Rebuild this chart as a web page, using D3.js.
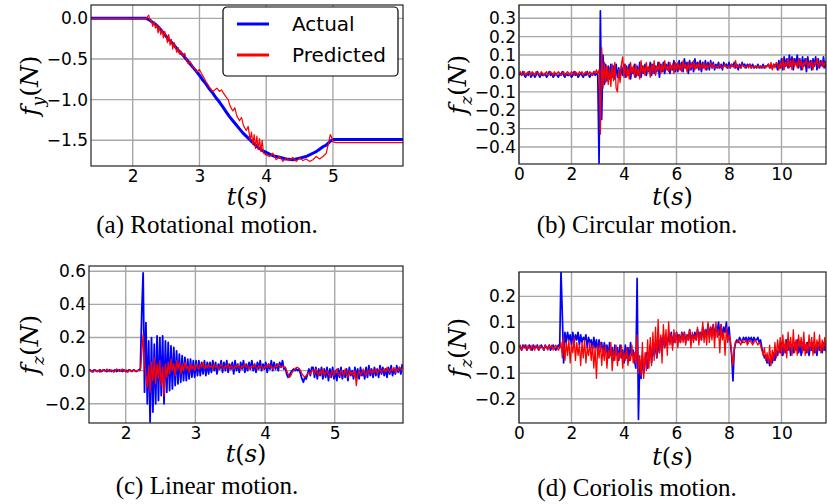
<!DOCTYPE html>
<html>
<head>
<meta charset="utf-8">
<script src="https://cdn.jsdelivr.net/npm/d3@7"></script>
<style>
  body { margin: 0; background: #fff; }
  .tick text { font-family: "DejaVu Sans", sans-serif; font-size: 17px; fill: #000; }
</style>
</head>
<body>
<script>
// ---- data ----

// (a) rotational motion, f_y in N, [t, value]
var aActual = [[1.375,0],[2.2,0],[2.25,-0.02],[2.3,-0.05],[2.35,-0.08],[2.4,-0.12],[2.45,-0.17],[2.5,-0.22],
  [2.55,-0.27],[2.6,-0.31],[2.65,-0.36],[2.7,-0.41],[2.75,-0.45],[2.8,-0.5],[2.85,-0.55],[2.9,-0.6],
  [2.95,-0.65],[3.0,-0.7],[3.05,-0.76],[3.1,-0.81],[3.15,-0.87],[3.2,-0.92],[3.25,-0.98],[3.3,-1.03],
  [3.35,-1.09],[3.4,-1.15],[3.45,-1.21],[3.5,-1.26],[3.55,-1.31],[3.6,-1.36],[3.65,-1.41],[3.7,-1.45],
  [3.75,-1.49],[3.8,-1.53],[3.85,-1.57],[3.9,-1.6],[3.95,-1.63],[4.0,-1.65],[4.05,-1.67],[4.1,-1.69],
  [4.2,-1.71],[4.3,-1.73],[4.4,-1.74],[4.5,-1.72],[4.6,-1.7],[4.65,-1.68],[4.7,-1.66],[4.75,-1.64],
  [4.8,-1.61],[4.85,-1.58],[4.9,-1.56],[4.95,-1.52],[5.0,-1.49],[6.05,-1.49]];
var aPredicted = [[1.375,0],[2.18,0],[2.2,-0.01],[2.22,0.02],[2.24,0.04],[2.26,-0.03],[2.28,-0.02],[2.3,-0.1],
  [2.32,-0.04],[2.34,-0.12],[2.36,-0.08],[2.38,-0.18],[2.4,-0.1],[2.42,-0.2],[2.44,-0.14],[2.46,-0.24],
  [2.48,-0.16],[2.5,-0.22],[2.52,-0.3],[2.54,-0.2],[2.56,-0.33],[2.58,-0.26],[2.6,-0.38],[2.62,-0.3],
  [2.64,-0.35],[2.66,-0.42],[2.68,-0.36],[2.7,-0.44],[2.72,-0.4],[2.75,-0.47],[2.78,-0.43],[2.8,-0.5],
  [2.83,-0.56],[2.86,-0.53],[2.9,-0.6],[2.93,-0.62],[2.96,-0.66],[3.0,-0.63],[3.03,-0.68],[3.06,-0.72],
  [3.1,-0.78],[3.13,-0.82],[3.16,-0.86],[3.2,-0.9],[3.23,-0.88],[3.26,-0.86],[3.3,-0.9],[3.33,-0.88],
  [3.36,-0.92],[3.4,-0.97],[3.43,-1.0],[3.46,-1.08],[3.5,-1.14],[3.53,-1.1],[3.56,-1.2],[3.6,-1.26],
  [3.63,-1.22],[3.66,-1.32],[3.7,-1.38],[3.73,-1.33],[3.76,-1.5],[3.78,-1.4],[3.8,-1.55],[3.82,-1.43],
  [3.84,-1.6],[3.86,-1.45],[3.88,-1.62],[3.9,-1.48],[3.92,-1.64],[3.94,-1.5],[3.96,-1.66],[4.0,-1.68],
  [4.05,-1.7],[4.1,-1.66],[4.15,-1.74],[4.2,-1.7],[4.25,-1.76],[4.3,-1.72],[4.35,-1.75],[4.4,-1.71],
  [4.45,-1.76],[4.5,-1.72],[4.55,-1.75],[4.6,-1.73],[4.65,-1.76],[4.7,-1.74],[4.75,-1.7],[4.8,-1.73],
  [4.85,-1.7],[4.9,-1.66],[4.93,-1.55],[4.96,-1.43],[4.98,-1.46],[5.0,-1.52],[5.05,-1.53],[6.05,-1.53]];

// (b) circular motion, f_z in N, sampled every 0.05 s from t = 0
var bStart = 0, bStep = 0.05;
var bActual = [
  -0.01,0,-0.01,0.01,-0.01,-0.02,0,-0.01,0.01,-0.02,
  -0.01,0,-0.02,-0.01,0.01,-0.01,-0.02,0,-0.01,-0.01,
  0,-0.02,-0.01,0.01,-0.01,0,-0.02,-0.01,0,-0.01,
  -0.02,0,-0.01,0.01,-0.01,-0.02,0,-0.01,-0.01,0,
  -0.02,-0.01,0.01,-0.01,0,-0.02,-0.01,0,-0.01,-0.02,
  0,-0.01,0.01,-0.01,-0.02,0,-0.01,0.01,-0.01,0,
  -0.01,
  -0.49,0.34,-0.25,0.1,-0.06,0.05,-0.04,0.04,-0.03,0.05,
  -0.02,0.04,-0.03,0.05,-0.02,0.03,-0.03,0.04,-0.01,0.05,
  -0.02,0.04,-0.01,0.05,-0.03,0.03,0,0.05,-0.02,0.04,
  -0.01,0.06,-0.02,0.04,0,0.05,-0.01,0.03,0.01,0.06,
  -0.01,0.05,0,0.04,0.01,0.06,-0.02,0.05,0.01,0.06,
  0,0.05,0.02,0.06,0,0.04,0.02,0.07,0.01,0.05,
  0.01,0.07,0.02,0.06,0.01,0.08,0.03,0.06,0,0.07,
  0.02,0.06,0.01,0.08,0.03,0.06,0.02,0.07,0.01,0.06,
  0.03,0.07,0.02,0.06,0.02,0.07,0.03,0.06,0.02,0.05,
  0.03,0.06,0.03,0.05,0.02,0.06,0.04,0.05,0.03,0.06,
  0.03,0.05,0.04,0.06,0.03,0.05,0.02,0.05,0.03,0.06,
  0.04,0.05,0.03,0.05,0.04,0.05,0.03,0.05,0.03,0.04,
  0.03,0.05,0.03,0.04,0.03,0.05,0.03,0.04,0.04,0.05,
  0.03,0.04,0.03,0.05,0.04,0.05,
  0.02,0.07,0.03,0.08,0.02,0.09,0.04,0.08,0.03,0.1,
  0.04,0.09,0.02,0.08,0.05,0.1,0.03,0.08,0.02,0.09,
  0.04,0.08,0.01,0.09,0.03,0.07,0.02,0.08,0.04,0.09,
  0.02,0.08,0.03,0.07,0.04,0.09,0.03,0.07];
var bPredicted = [
  0,0.01,-0.01,0,0.01,-0.01,0,0.01,0,-0.01,
  0.01,0,-0.01,0.01,0,0,-0.01,0.01,0,-0.01,
  0,0.01,-0.01,0,0.01,0,-0.01,0.01,-0.01,0,
  0.01,0,-0.01,0,0.01,-0.01,0,0.01,0,-0.01,
  0.01,0,-0.01,0.01,0,-0.01,0.01,0,0.01,-0.01,
  0,0.01,0,-0.01,0.01,0,-0.01,0.01,0,0.02,
  0,
  0.02,-0.33,0.14,-0.08,0.06,-0.05,0.04,-0.06,0.03,-0.07,
  0.05,-0.04,0.06,-0.08,-0.1,0.02,-0.05,0.05,0.09,-0.02,
  0.05,-0.02,0.03,-0.03,0.06,0,0.04,-0.02,0.05,-0.01,
  0.03,-0.03,0.07,0,0.04,-0.01,0.06,0.01,0.04,-0.02,
  0.05,0.01,0.07,-0.01,0.04,0.02,0.06,0,0.05,0.01,
  0.07,0.02,0.04,0.01,0.06,0.02,0.05,0,0.06,0.02,
  0.06,0.02,0.05,0.01,0.07,0.03,0.05,0.01,0.06,0.02,
  0.05,0.03,0.07,0.02,0.05,0.03,0.06,0.02,0.05,0.03,
  0.06,0.02,0.05,0.03,0.04,0.06,0.03,0.05,0.03,0.04,
  0.04,0.03,0.05,0.04,0.03,0.04,0.05,0.03,0.04,0.04,
  0.03,0.05,0.04,0.03,0.07,0.03,0.04,0.04,0.03,0.05,
  0.04,0.03,0.04,0.04,0.03,0.05,0.03,0.04,0.03,0.04,
  0.03,0.04,0.04,0.03,0.04,0.03,0.04,0.03,0.04,0.05,
  0.03,0.06,0.02,0.05,0.03,0.06,
  0.05,0.02,0.06,0.03,0.08,0.02,0.06,0.04,0.08,0.03,
  0.07,0.02,0.08,0.04,0.06,0.03,0.08,0.04,0.07,0.02,
  0.06,0.05,0.08,0.03,0.06,0.04,0.07,0.02,0.06,0.05,
  0.08,0.03,0.06,0.05,0.07,0.03,0.06,0.05];

// (c) linear motion, f_z in N, sampled every 0.02 s from t = 1.47
var cStart = 1.47, cStep = 0.02;
var cActual = [
  0,0.005,-0.005,0,0.005,0,-0.005,0,0.005,-0.005,
  0,0.005,0,-0.005,0,0.005,-0.005,0,0,0.005,
  -0.005,0,0.005,0,-0.005,0.005,0,-0.005,0,0.005,
  0,-0.005,0.005,0,-0.005,0,0.005,
  0.01,0.35,0.59,-0.13,
  0.29,-0.2,0.18,-0.31,0.2,-0.25,0.16,-0.2,0.21,-0.18,
  0.2,-0.15,0.21,-0.2,0.18,-0.13,0.17,-0.12,0.15,-0.11,
  0.14,-0.09,0.12,-0.08,0.1,-0.07,0.09,-0.06,0.08,-0.06,
  0.07,-0.05,0.07,-0.04,0.06,-0.04,0.06,-0.03,0.06,-0.03,
  0.05,-0.02,0.06,-0.03,0.05,-0.02,
  0.05,-0.01,0.06,0,0.05,-0.02,0.04,0.01,0.06,-0.01,
  0.05,0,0.06,-0.01,0.04,0.01,0.05,-0.02,0.06,0,
  0.04,-0.01,0.05,0.01,0.06,-0.01,0.04,0,0.05,0.01,
  0.06,0,0.04,-0.01,0.05,0.01,0.06,0,0.04,0.01,
  0.05,-0.01,0.04,0.01,0.06,0,0.05,0.01,0.04,0,
  0.05,0.02,0.06,0.01,
  0.02,-0.02,-0.04,-0.03,-0.01,0,0.01,0,0.01,0,
  0.01,-0.02,-0.05,-0.07,-0.04,-0.05,-0.02,0.01,-0.03,0.02,
  0.02,-0.04,0.02,-0.05,0.01,-0.03,0.02,-0.05,0.01,-0.04,
  0.02,-0.06,0.01,-0.04,0.02,-0.05,0,-0.06,0.01,-0.04,
  0.02,-0.05,0,-0.04,0.01,-0.06,0.02,-0.03,0,-0.05,
  0.02,-0.04,0.01,-0.05,0.02,-0.03,0,-0.05,0.02,-0.04,
  0.03,-0.03,0.01,-0.04,0.02,-0.03,0.01,-0.04,0.03,-0.02,
  0.02,-0.03,0.01,-0.04,0.02,-0.02,0.03,-0.03,0.01,-0.02,
  0.03,-0.01,0.02,-0.02,0.04];
var cPredicted = [
  0,0.005,-0.005,-0.01,0,0.005,-0.005,0,-0.01,0,
  0.005,0,-0.005,0.01,0,-0.005,0.005,0,-0.01,0,
  0.01,0.005,-0.005,0,0.01,-0.005,0,0.005,-0.01,0,
  0.005,-0.005,0,0.005,-0.005,0,0,
  0,0.1,0.22,0.05,
  -0.02,-0.1,0.03,-0.13,0.05,-0.06,0.08,-0.08,0.04,-0.05,
  0.06,-0.09,0.02,-0.15,0.04,-0.04,0.05,-0.02,0.07,0,
  0.04,-0.03,0.06,0.01,0.05,-0.02,0.04,0,0.05,0.01,
  0.03,-0.01,0.04,0.01,0.03,0,0.04,0.02,0.01,0.04,
  0.02,0.05,0.01,0.03,0.02,0.04,
  0.02,0.03,0.01,0.04,0.02,0.03,0.01,0.02,0.04,0.02,
  0.01,0.03,0.02,0.04,0.01,0.03,0.02,0.01,0.03,0.02,
  0.04,0.02,0.01,0.03,0.02,0.04,0.02,0.03,0.01,0.02,
  0.03,0.02,0.04,0.02,0.01,0.03,0.02,0.03,0.01,0.02,
  0.03,0.02,0.04,0.02,0.03,0.01,0.02,0.03,0.02,0.04,
  0.03,0.02,0.03,0.02,
  0.02,0,-0.02,-0.04,-0.03,-0.01,0,0.01,0.02,0.02,
  0.01,0,-0.02,-0.03,-0.04,-0.03,-0.02,-0.01,-0.02,0,
  0,-0.02,0.01,-0.01,-0.03,0,-0.02,0.01,-0.03,-0.01,
  0,-0.02,-0.04,-0.01,0,-0.03,-0.01,0.01,-0.02,-0.03,
  0,-0.01,-0.03,0.01,-0.02,-0.04,0,-0.02,-0.01,-0.03,
  0,-0.09,-0.02,0,-0.03,-0.01,0.01,-0.02,-0.03,0,
  -0.01,0.01,-0.02,0,-0.01,0.01,-0.02,0,0.01,-0.01,
  0,0.01,-0.01,0.02,0,-0.01,0.01,0,0.02,-0.01,
  0.01,0,0.02,0.01,0];

// (d) Coriolis motion, f_z in N, sampled every 0.05 s from t = 0
var dStart = 0, dStep = 0.05;
var dActual = [
  0.01,0,-0.01,0.01,0,0.01,-0.01,0,0.01,0,
  -0.01,0.01,0,0,0.01,-0.01,0,0.01,0,-0.01,
  0.01,0,0,0.01,-0.01,0,0.01,0,-0.01,0,
  0.01,0,
  0.3,0.13,-0.06,0.06,
  0.02,0.06,0.03,0.05,0.01,0.06,0.02,0.05,0.03,0.06,
  0.01,0.05,0.02,0.04,0.03,0.05,0,0.04,0.02,0.03,
  -0.01,0.04,0,0.03,-0.02,0.03,0,0.02,-0.03,0.02,
  -0.02,0.01,-0.04,0.02,-0.03,0,-0.05,0.01,-0.03,0,
  -0.05,0.01,-0.04,-0.01,-0.06,0.01,-0.04,0,-0.05,0.02,
  -0.03,-0.01,-0.05,
  -0.08,0.27,-0.28,-0.05,-0.12,-0.03,-0.1,-0.06,-0.02,-0.08,
  -0.04,0.01,-0.06,0,-0.03,0.02,-0.04,0.03,-0.02,0.04,
  -0.01,0.05,0,0.04,0.01,0.05,0.02,0.06,0.01,0.05,
  0.02,0.06,0.03,0.05,0.02,0.06,
  0.03,0.06,0.02,0.05,0.03,0.07,0.02,0.05,0.04,0.06,
  0.03,0.07,0.04,0.06,0.03,0.08,0.04,0.07,0.05,0.09,
  0.04,0.08,
  0.05,0.09,0.04,0.08,0.06,0.1,0.05,0.09,0.04,0.08,
  0.06,0.1,0.03,0.08,
  0.02,-0.03,-0.13,-0.01,0.02,
  0.03,0.02,0.04,0.03,0.02,0.04,0.03,0.04,0.02,0.04,
  0.03,0.04,0.02,0.04,0.03,0.03,0.04,0.02,0.03,
  0,-0.02,-0.04,-0.03,-0.06,-0.04,-0.07,-0.03,-0.06,-0.02,
  -0.05,-0.01,-0.03,0,
  -0.02,0.02,-0.03,0.01,-0.02,0.03,-0.01,0.02,-0.03,0.01,
  -0.02,0.02,-0.01,0.03,-0.02,0.01,-0.03,0.02,-0.01,0.01,
  -0.02,0.02,-0.03,0.01,-0.01,0.02,-0.02,0.01,-0.03,0.02,
  -0.01,0.01,-0.02,0.02,-0.01,0.01];
var dPredicted = [
  0,0.01,-0.01,0,0.01,0,-0.01,0.01,0,-0.01,
  0.01,0,-0.01,0.01,0,-0.01,0.01,0,0,-0.01,
  0.01,0,-0.01,0.01,0,0.01,-0.01,0,0.01,0,
  -0.01,0,
  0.02,-0.04,0.04,-0.05,0.02,-0.03,0.03,-0.06,0.01,-0.02,
  0.04,-0.05,0.02,-0.03,0.01,-0.07,0.02,-0.04,0.03,-0.06,
  0,-0.03,0.02,-0.05,0.01,-0.08,0,-0.12,0.01,-0.04,
  0.02,-0.07,0,-0.05,0.01,-0.08,-0.01,-0.04,0.02,-0.09,
  -0.01,-0.05,0.01,-0.07,-0.02,-0.04,0.01,-0.08,-0.02,-0.05,
  0,-0.07,-0.03,-0.05,0.01,-0.06,-0.02,
  -0.06,0.05,-0.1,-0.03,-0.11,0.02,-0.12,-0.02,-0.09,0.03,
  -0.08,0.04,-0.07,0.06,-0.05,0.08,-0.04,0.11,-0.02,0.05,
  -0.06,0.09,0,0.07,-0.03,0.1,0.01,0.05,-0.01,0.07,
  0.02,0.06,0,0.05,0.02,0.06,
  0.02,0.06,0.01,0.05,0.03,0.07,0,0.06,0.02,0.05,
  0.03,0.08,0.01,0.06,0.03,0.1,0.02,0.07,0.01,0.1,
  0.02,0.08,
  0.03,0.09,0,0.1,0.04,0.07,-0.02,0.09,0.03,0.06,
  -0.03,0.08,0.02,0.05,
  0.03,-0.02,-0.07,0,0.02,
  0.02,0.03,0.02,0.01,0.03,0.02,0.02,0.03,0.01,0.02,
  0.03,0.02,0.01,0.02,0.03,0.02,0.01,0.02,0.01,
  -0.01,-0.03,0,-0.05,-0.02,-0.06,0.01,-0.07,-0.01,-0.05,
  0.02,-0.04,0.03,-0.02,
  0.04,-0.03,0.05,-0.02,0.03,-0.04,0.06,-0.01,0.04,-0.03,
  0.07,-0.02,0.03,-0.03,0.05,0,0.04,-0.02,0.06,-0.03,
  0.02,-0.02,0.05,-0.01,0.04,-0.03,0.06,-0.02,0.03,-0.01,
  0.05,-0.02,0.03,-0.01,0.04,-0.02];

// tick values
var aXTicks = [2, 3, 4, 5], aYTicks = [0, -0.5, -1.0, -1.5];
var bXTicks = [0, 2, 4, 6, 8, 10], bYTicks = [0.3, 0.2, 0.1, 0.0, -0.1, -0.2, -0.3, -0.4];
var cXTicks = [2, 3, 4, 5], cYTicks = [0.6, 0.4, 0.2, 0.0, -0.2];
var dXTicks = [0, 2, 4, 6, 8, 10], dYTicks = [0.2, 0.1, 0.0, -0.1, -0.2];

var legendLabels = ["Actual", "Predicted"];
var colors = {actual: "#0000ff", predicted: "#ff0000"};

function sampled(values, start, step) {
  return values.map(function(v, i) { return [start + i * step, v]; });
}

var svg = d3.select("body").append("svg")
  .attr("width", 827)
  .attr("height", 504);

svg.append("rect").attr("width", 827).attr("height", 504).attr("fill", "#fff");

var fmt1 = d3.format(".1f");

function drawPanel(p) {
  var x = d3.scaleLinear().domain(p.xDomain).range([p.left, p.right]);
  var y = d3.scaleLinear().domain(p.yDomain).range([p.bottom, p.top]);
  var g = svg.append("g");

  // grid
  g.selectAll(".gx").data(p.xTicks).enter().append("line")
    .attr("x1", d => x(d)).attr("x2", d => x(d))
    .attr("y1", p.top).attr("y2", p.bottom)
    .attr("stroke", "#a8a8a8").attr("stroke-width", 1.4);
  g.selectAll(".gy").data(p.yTicks).enter().append("line")
    .attr("x1", p.left).attr("x2", p.right)
    .attr("y1", d => y(d)).attr("y2", d => y(d))
    .attr("stroke", "#a8a8a8").attr("stroke-width", 1.4);

  var clipId = "clip-" + p.id;
  svg.append("clipPath").attr("id", clipId).append("rect")
    .attr("x", p.left).attr("y", p.top)
    .attr("width", p.right - p.left).attr("height", p.bottom - p.top);

  var line = d3.line().x(d => x(d[0])).y(d => y(d[1]));
  var lines = g.append("g").attr("clip-path", "url(#" + clipId + ")");
  lines.append("path").datum(p.actual)
    .attr("d", line).attr("fill", "none")
    .attr("stroke", colors.actual).attr("stroke-width", p.actualWidth)
    .attr("stroke-linejoin", "round");
  lines.append("path").datum(p.predicted)
    .attr("d", line).attr("fill", "none")
    .attr("stroke", colors.predicted).attr("stroke-width", p.predictedWidth)
    .attr("stroke-linejoin", "round");

  // frame
  g.append("rect")
    .attr("x", p.left).attr("y", p.top)
    .attr("width", p.right - p.left).attr("height", p.bottom - p.top)
    .attr("fill", "none").attr("stroke", "#222").attr("stroke-width", 1.2);

  // tick labels
  g.append("g").attr("transform", `translate(0,${p.bottom})`)
    .call(d3.axisBottom(x).tickValues(p.xTicks).tickSize(0).tickPadding(4).tickFormat(d3.format("d")))
    .call(a => a.select(".domain").remove());
  g.append("g").attr("transform", `translate(${p.left},0)`)
    .call(d3.axisLeft(y).tickValues(p.yTicks).tickSize(0).tickPadding(3).tickFormat(fmt1))
    .call(a => a.select(".domain").remove());
  g.selectAll(".tick text").attr("font-family", null).attr("font-size", null);

  // x label  t(s)
  var xl = g.append("text")
    .attr("x", (p.left + p.right) / 2).attr("y", p.xLabelY)
    .attr("text-anchor", "middle")
    .attr("font-family", "DejaVu Serif").attr("font-size", 24);
  xl.append("tspan").attr("font-style", "italic").text("t");
  xl.append("tspan").text("(");
  xl.append("tspan").attr("font-style", "italic").text("s");
  xl.append("tspan").text(")");

  // y label  f_y(N)
  var yl = g.append("text")
    .attr("transform", `translate(${p.yLabelX},${(p.top + p.bottom) / 2}) rotate(-90)`)
    .attr("text-anchor", "middle")
    .attr("font-family", "DejaVu Serif").attr("font-size", 25);
  yl.append("tspan").attr("font-style", "italic").text("f");
  yl.append("tspan").attr("font-style", "italic").attr("font-size", 17).attr("dy", 6).text(p.sub);
  yl.append("tspan").attr("dy", -6).text("(");
  yl.append("tspan").attr("font-style", "italic").text("N");
  yl.append("tspan").text(")");

  // caption
  svg.append("text")
    .attr("x", p.captionX).attr("y", p.captionY)
    .attr("text-anchor", "middle")
    .attr("font-family", "Liberation Serif").attr("font-size", 25)
    .text(p.caption);

  return {x: x, y: y};
}

drawPanel({
  id: "a", left: 91, right: 403, top: 5, bottom: 166,
  xDomain: [1.375, 6.05], yDomain: [-1.817, 0.164],
  xTicks: aXTicks, yTicks: aYTicks,
  actual: aActual, predicted: aPredicted, actualWidth: 3, predictedWidth: 1.2,
  sub: "y", yLabelX: 38, xLabelY: 205,
  caption: "(a) Rotational motion.", captionX: 207, captionY: 233
});

drawPanel({
  id: "b", left: 519, right: 826, top: 5, bottom: 164,
  xDomain: [0, 11.695], yDomain: [-0.492, 0.372],
  xTicks: bXTicks, yTicks: bYTicks,
  actual: sampled(bActual, bStart, bStep), predicted: sampled(bPredicted, bStart, bStep),
  actualWidth: 1.7, predictedWidth: 1.3,
  sub: "z", yLabelX: 466, xLabelY: 205,
  caption: "(b) Circular motion.", captionX: 637, captionY: 233
});

drawPanel({
  id: "c", left: 89, right: 403, top: 266, bottom: 423,
  xDomain: [1.473, 5.98], yDomain: [-0.316, 0.632],
  xTicks: cXTicks, yTicks: cYTicks,
  actual: sampled(cActual, cStart, cStep), predicted: sampled(cPredicted, cStart, cStep),
  actualWidth: 1.8, predictedWidth: 1.3,
  sub: "z", yLabelX: 38, xLabelY: 462,
  caption: "(c) Linear motion.", captionX: 207, captionY: 494
});

drawPanel({
  id: "d", left: 519, right: 826, top: 272, bottom: 423,
  xDomain: [0, 11.695], yDomain: [-0.294, 0.295],
  xTicks: dXTicks, yTicks: dYTicks,
  actual: sampled(dActual, dStart, dStep), predicted: sampled(dPredicted, dStart, dStep),
  actualWidth: 1.7, predictedWidth: 1.3,
  sub: "z", yLabelX: 466, xLabelY: 465,
  caption: "(d) Coriolis motion.", captionX: 637, captionY: 496
});

// legend in panel (a)
var lg = svg.append("g");
lg.append("rect")
  .attr("x", 223).attr("y", 7).attr("width", 175).attr("height", 69)
  .attr("rx", 4).attr("fill", "#fff").attr("stroke", "#000").attr("stroke-width", 1.2);
lg.selectAll(".ll").data(legendLabels).enter().append("line")
  .attr("x1", 237).attr("x2", 269)
  .attr("y1", (d, i) => 24 + i * 31).attr("y2", (d, i) => 24 + i * 31)
  .attr("stroke", (d, i) => i === 0 ? colors.actual : colors.predicted)
  .attr("stroke-width", 3);
lg.selectAll(".lt").data(legendLabels).enter().append("text")
  .attr("x", 292).attr("y", (d, i) => 24 + i * 31)
  .attr("dominant-baseline", "central")
  .attr("font-family", "DejaVu Sans").attr("font-size", 20)
  .text(d => d);
</script>
</body>
</html>
